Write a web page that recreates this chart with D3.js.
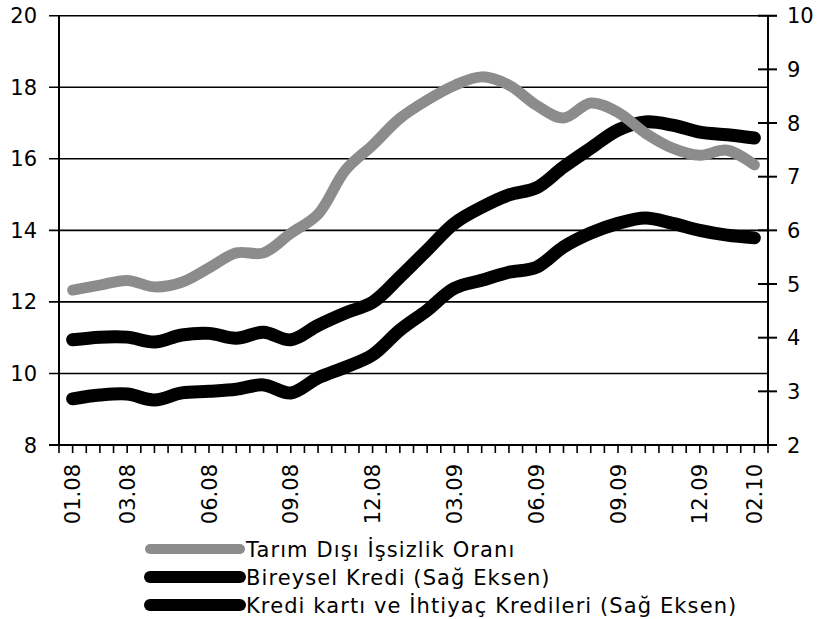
<!DOCTYPE html>
<html>
<head>
<meta charset="utf-8">
<script src="https://cdn.jsdelivr.net/npm/d3@7"></script>
<style>
  body { margin: 0; background: #fff; }
  svg text { font-family: "DejaVu Sans", sans-serif; fill: #000; }
</style>
</head>
<body>
<svg id="chart"></svg>
<script>
const w = 820;
const h = 619;

// months 01.08 .. 02.10
const months = ["01.08","02.08","03.08","04.08","05.08","06.08","07.08","08.08","09.08","10.08","11.08","12.08",
  "01.09","02.09","03.09","04.09","05.09","06.09","07.09","08.09","09.09","10.09","11.09","12.09","01.10","02.10"];
const shownLabels = ["01.08","03.08","06.08","09.08","12.08","03.09","06.09","09.09","12.09","02.10"];

const unemployment = [12.33, 12.47, 12.6, 12.42, 12.55, 12.95, 13.37, 13.37, 13.92, 14.45, 15.68, 16.38, 17.13,
  17.64, 18.05, 18.29, 18.06, 17.5, 17.14, 17.56, 17.3, 16.72, 16.3, 16.1, 16.24, 15.83];
const consumerLoans = [3.96, 4.01, 4.01, 3.92, 4.05, 4.08, 3.99, 4.1, 3.96, 4.23, 4.46, 4.66, 5.13,
  5.63, 6.13, 6.43, 6.66, 6.79, 7.18, 7.53, 7.87, 8.02, 7.96, 7.83, 7.78, 7.72];
const cardLoans = [2.86, 2.93, 2.95, 2.84, 2.97, 3.0, 3.04, 3.12, 2.97, 3.25, 3.45, 3.68, 4.14,
  4.51, 4.92, 5.07, 5.22, 5.31, 5.69, 5.95, 6.13, 6.23, 6.13, 6.0, 5.91, 5.86];

const leftTicks = [8, 10, 12, 14, 16, 18, 20];
const rightTicks = [2, 3, 4, 5, 6, 7, 8, 9, 10];
const legendLabels = ["Tarım Dışı İşsizlik Oranı", "Bireysel Kredi (Sağ Eksen)", "Kredi kartı ve İhtiyaç Kredileri (Sağ Eksen)"];

const svg = d3.select("#chart")
  .attr("width", w)
  .attr("height", h)
  .attr("viewBox", [0, 0, w, h]);

const plotLeft = 59, plotRight = 768, plotTop = 15.7, plotBottom = 445;

const x = d3.scaleBand().domain(months).range([plotLeft, plotRight]);
const yL = d3.scaleLinear().domain([8, 20]).range([plotBottom, plotTop]);
const yR = d3.scaleLinear().domain([2, 10]).range([plotBottom, plotTop]);
const cx = m => x(m) + x.bandwidth() / 2;

// horizontal grid lines (left axis values)
svg.append("g")
  .selectAll("line")
  .data(leftTicks.filter(d => d > 8))
  .join("line")
  .attr("x1", plotLeft - 10)
  .attr("x2", d => d === 20 ? plotRight + 9 : plotRight)
  .attr("y1", d => yL(d))
  .attr("y2", d => yL(d))
  .attr("stroke", "#000")
  .attr("stroke-width", 1.6);

// left axis
svg.append("line")
  .attr("x1", plotLeft).attr("x2", plotLeft)
  .attr("y1", plotTop).attr("y2", plotBottom)
  .attr("stroke", "#000").attr("stroke-width", 2);
svg.append("line")
  .attr("x1", plotLeft - 10).attr("x2", plotLeft)
  .attr("y1", plotBottom).attr("y2", plotBottom)
  .attr("stroke", "#000").attr("stroke-width", 2);
svg.append("g")
  .selectAll("text")
  .data(leftTicks)
  .join("text")
  .attr("x", 37)
  .attr("y", d => yL(d))
  .attr("dy", "0.36em")
  .attr("text-anchor", "end")
  .attr("font-size", 21)
  .text(d => d);

// right axis
svg.append("line")
  .attr("x1", plotRight).attr("x2", plotRight)
  .attr("y1", plotTop).attr("y2", plotBottom)
  .attr("stroke", "#000").attr("stroke-width", 2);
svg.append("g")
  .selectAll("line")
  .data(rightTicks)
  .join("line")
  .attr("x1", d => d === 2 ? plotRight : plotRight - 10)
  .attr("x2", plotRight + 9)
  .attr("y1", d => yR(d))
  .attr("y2", d => yR(d))
  .attr("stroke", "#000")
  .attr("stroke-width", 2);
svg.append("g")
  .selectAll("text")
  .data(rightTicks)
  .join("text")
  .attr("x", 787)
  .attr("y", d => yR(d))
  .attr("dy", "0.36em")
  .attr("text-anchor", "start")
  .attr("font-size", 21)
  .text(d => d);

// bottom axis with half-month ticks
svg.append("line")
  .attr("x1", plotLeft).attr("x2", plotRight)
  .attr("y1", plotBottom).attr("y2", plotBottom)
  .attr("stroke", "#000").attr("stroke-width", 2);
const tickXs = [];
months.forEach(m => { tickXs.push(x(m)); tickXs.push(cx(m)); });
tickXs.push(plotRight);
svg.append("g")
  .selectAll("line")
  .data(tickXs)
  .join("line")
  .attr("x1", d => d).attr("x2", d => d)
  .attr("y1", plotBottom).attr("y2", plotBottom + 8)
  .attr("stroke", "#000").attr("stroke-width", 1.6);
svg.append("g")
  .selectAll("text")
  .data(shownLabels)
  .join("text")
  .attr("transform", d => `translate(${cx(d)},464) rotate(-90)`)
  .attr("dy", "0.36em")
  .attr("text-anchor", "end")
  .attr("font-size", 21)
  .text(d => d);

// series lines
const lineL = d3.line().x((d, i) => cx(months[i])).y(d => yL(d)).curve(d3.curveCatmullRom);
const lineR = d3.line().x((d, i) => cx(months[i])).y(d => yR(d)).curve(d3.curveCatmullRom);

svg.append("path")
  .attr("d", lineR(cardLoans))
  .attr("fill", "none").attr("stroke", "#000")
  .attr("stroke-width", 13).attr("stroke-linecap", "round").attr("stroke-linejoin", "round");
svg.append("path")
  .attr("d", lineR(consumerLoans))
  .attr("fill", "none").attr("stroke", "#000")
  .attr("stroke-width", 13).attr("stroke-linecap", "round").attr("stroke-linejoin", "round");
svg.append("path")
  .attr("d", lineL(unemployment))
  .attr("fill", "none").attr("stroke", "#8c8c8c")
  .attr("stroke-width", 11).attr("stroke-linecap", "round").attr("stroke-linejoin", "round");

// legend
const legendColors = ["#8c8c8c", "#000", "#000"];
const legendWidths = [10, 12, 12];
const legendYs = [549, 577, 605];
const legend = svg.append("g")
  .selectAll("g")
  .data(legendLabels)
  .join("g")
  .attr("transform", (d, i) => `translate(0,${legendYs[i]})`);
legend.append("line")
  .attr("x1", 150).attr("x2", 240)
  .attr("y1", 0).attr("y2", 0)
  .attr("stroke", (d, i) => legendColors[i])
  .attr("stroke-width", (d, i) => legendWidths[i])
  .attr("stroke-linecap", "round");
legend.append("text")
  .attr("x", 246)
  .attr("y", 0)
  .attr("dy", "0.36em")
  .attr("font-size", 21)
  .attr("letter-spacing", 1.1)
  .text(d => d);
</script>
</body>
</html>
